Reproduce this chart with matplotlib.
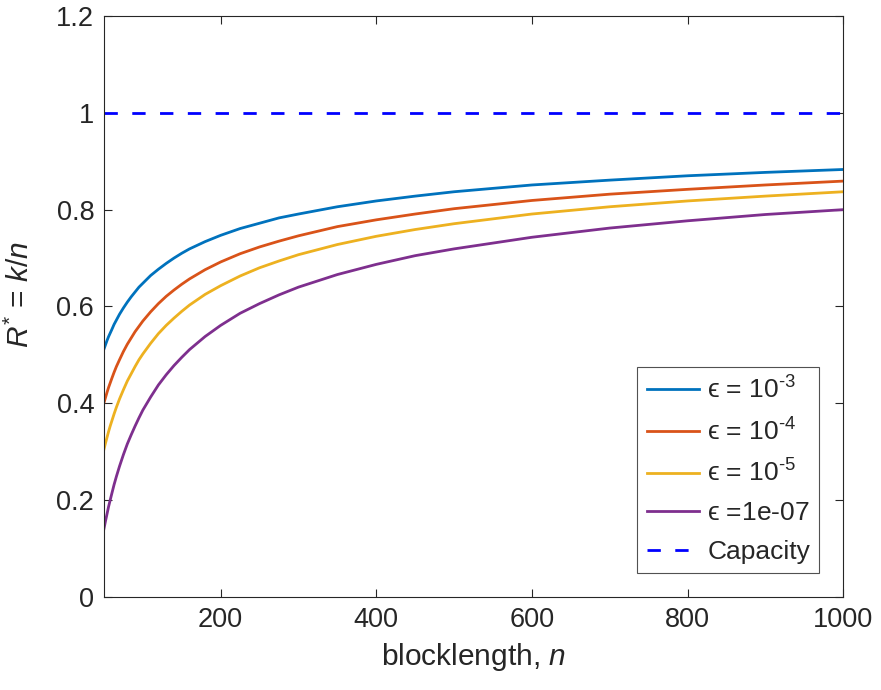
import matplotlib
matplotlib.use('Agg')
import matplotlib.pyplot as plt

n = [50, 52, 54, 56, 58, 60, 63, 66, 70, 75, 80, 85, 90, 95, 100, 110, 120, 130,
     140, 150, 160, 180, 200, 225, 250, 275, 300, 350, 400, 450, 500, 600, 700,
     800, 900, 1000]

# R* = k/n, one list per error probability
r_e3 = [0.512, 0.521, 0.530, 0.538, 0.545, 0.552, 0.563, 0.572, 0.584, 0.597, 0.609, 0.620,
        0.630, 0.640, 0.648, 0.664, 0.677, 0.689, 0.700, 0.710, 0.719, 0.734, 0.747, 0.761,
        0.772, 0.783, 0.791, 0.806, 0.818, 0.828, 0.837, 0.851, 0.861, 0.870, 0.877, 0.883]
r_e4 = [0.401, 0.412, 0.423, 0.433, 0.442, 0.451, 0.464, 0.476, 0.490, 0.507, 0.522, 0.535,
        0.548, 0.559, 0.570, 0.589, 0.606, 0.621, 0.634, 0.646, 0.657, 0.676, 0.692, 0.709,
        0.723, 0.735, 0.746, 0.765, 0.779, 0.791, 0.802, 0.819, 0.832, 0.842, 0.851, 0.859]
r_e5 = [0.305, 0.318, 0.330, 0.342, 0.353, 0.363, 0.378, 0.392, 0.409, 0.428, 0.446, 0.461,
        0.476, 0.490, 0.502, 0.524, 0.544, 0.561, 0.576, 0.590, 0.603, 0.625, 0.643, 0.663,
        0.680, 0.694, 0.707, 0.728, 0.745, 0.759, 0.771, 0.791, 0.806, 0.818, 0.828, 0.837]
r_e7 = [0.141, 0.157, 0.172, 0.187, 0.200, 0.213, 0.232, 0.249, 0.270, 0.294, 0.316, 0.335,
        0.353, 0.370, 0.386, 0.413, 0.438, 0.459, 0.478, 0.495, 0.511, 0.538, 0.561, 0.586,
        0.606, 0.624, 0.640, 0.666, 0.687, 0.705, 0.719, 0.743, 0.762, 0.777, 0.790, 0.800]
capacity = 1.0

labels = [r'$\mathrm{ϵ}$ = 10$^{\text{-3}}$',
          r'$\mathrm{ϵ}$ = 10$^{\text{-4}}$',
          r'$\mathrm{ϵ}$ = 10$^{\text{-5}}$',
          r'$\mathrm{ϵ}$ =1e-07',
          'Capacity']
colors = ['#0072BD', '#D95319', '#EDB120', '#7E2F8E']

plt.rcParams['font.family'] = 'Liberation Sans'
plt.rcParams['mathtext.fontset'] = 'custom'
plt.rcParams['mathtext.rm'] = 'Liberation Sans'
plt.rcParams['mathtext.it'] = 'Liberation Sans:italic'
plt.rcParams['mathtext.fallback'] = 'stixsans'
plt.rcParams['text.color'] = '#262626'

fig = plt.figure(figsize=(8.81, 6.9), dpi=100)
ax = fig.add_axes([0.118, 0.1348, 0.839, 0.842])

for r, c, lab in zip([r_e3, r_e4, r_e5, r_e7], colors, labels[:4]):
    ax.plot(n, r, color=c, lw=2.0, label=lab)
ax.plot([n[0], n[-1]], [capacity, capacity], color='#0000FF', lw=2.0,
        dashes=(4.8, 5.2), label=labels[4])

ax.set_xlim(50, 1000)
ax.set_ylim(0, 1.2)
ax.set_xticks([200, 400, 600, 800, 1000])
ax.set_yticks([0, 0.2, 0.4, 0.6, 0.8, 1.0, 1.2])
ax.set_yticklabels(['0', '0.2', '0.4', '0.6', '0.8', '1', '1.2'])
ax.tick_params(direction='in', length=6, width=0.8, colors='#262626',
               labelsize=19.5, top=True, right=True, pad=7)
for s in ax.spines.values():
    s.set_color('#262626')
    s.set_linewidth(0.8)

ax.set_xlabel(r'blocklength, $n$', fontsize=21.5, color='#262626', labelpad=6)
ax.set_ylabel(r'$R^{*}$ = $k/n$', fontsize=21.5, color='#262626', labelpad=10)
ax.yaxis.set_label_coords(-0.093, 0.52)

leg = ax.legend(loc='lower right', fontsize=19, frameon=True, fancybox=False,
                handlelength=2.0, handletextpad=0.3, labelspacing=0.55,
                borderpad=0.35, borderaxespad=0.9)
leg.get_frame().set_edgecolor('#262626')
leg.get_frame().set_linewidth(0.8)

fig.savefig('out.png', dpi=100)
